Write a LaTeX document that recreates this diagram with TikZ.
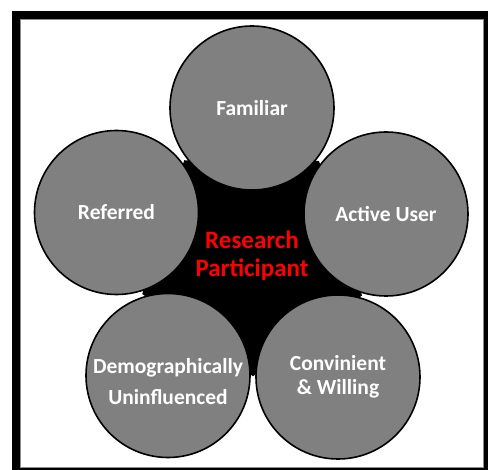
\documentclass[tikz,border=0pt]{standalone}
\usepackage{fontspec}
\setmainfont{Carlito}
\usetikzlibrary{calc}
\definecolor{bubblegray}{RGB}{128,128,128}
\definecolor{corered}{RGB}{255,0,0}
\begin{document}
\begin{tikzpicture}[x=1pt,y=-1pt,
  bubble/.style={circle, draw=black, line width=1.6pt, fill=bubblegray,
    minimum size=164pt, inner sep=0pt, text=white, align=center,
    font=\fontsize{21.5}{24}\selectfont\bfseries},
  bubbletext/.style={text=white, align=center, inner sep=0pt,
    font=\fontsize{21.5}{24}\selectfont\bfseries},
  coretext/.style={text=corered, align=center, inner sep=0pt,
    font=\fontsize{25}{28}\selectfont\bfseries}]
\useasboundingbox (0,0) rectangle (488,470);
\clip (0,0) rectangle (488,470);
% frame
\fill[black] (12,11) rectangle (496,478);
\filldraw[fill=white, draw=black!45, line width=0.6pt] (20.5,19) rectangle (483,467);
% centres
\coordinate (cf) at (252,108);
\coordinate (cr) at (116.5,212.5);
\coordinate (ca) at (386,214);
\coordinate (cd) at (168,375.5);
\coordinate (cc) at (338,377);
% black core
\fill[black] ($(cf)!0.5!(cr)$) -- ($(cf)!0.5!(ca)$) -- ($(ca)!0.5!(cc)$)
  -- ($(cc)!0.5!(cd)$) -- ($(cd)!0.5!(cr)$) -- cycle;
% bubbles
\node[bubble] (fam) at (cf) {Familiar};
\node[bubble] (ref) at (cr) {Referred};
\node[bubble] (act) at (ca) {Active User};
\node[bubble, label={[name=demtext, bubbletext, yshift=-6pt]center:Demographically\\[7.5pt]Uninfluenced}] (dem) at (cd) {};
\node[bubble] (con) at (cc) {Convinient\\\& Willing};
\node[coretext] (core) at (252,256) {Research\\Participant};
\end{tikzpicture}
\end{document}
